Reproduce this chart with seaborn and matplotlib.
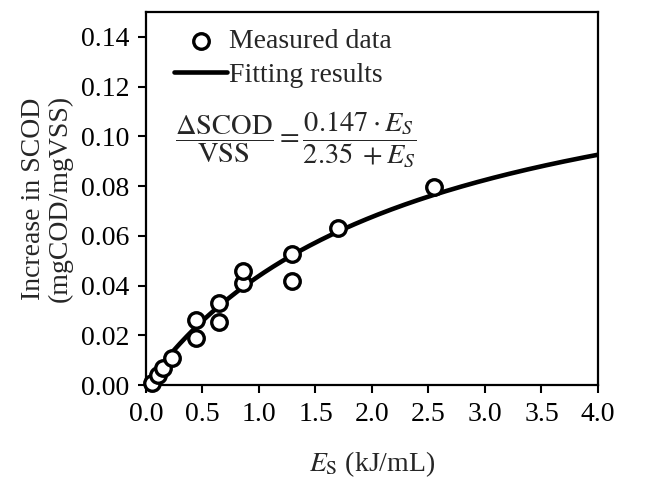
import numpy as np
import pandas as pd
import seaborn as sns
import matplotlib.pyplot as plt

# Measured points
es_measured = [0.05, 0.11, 0.15, 0.23, 0.44, 0.44, 0.65, 0.65, 0.86, 0.86, 1.29, 1.29, 1.70, 2.55]
scod_measured = [0.001, 0.004, 0.0067, 0.011, 0.019, 0.026, 0.0255, 0.033, 0.041, 0.046,
                 0.042, 0.0525, 0.063, 0.0796]

# Fitted model parameters (shown in the figure's equation)
fit_max = 0.147
fit_half = 2.35

x_ticks = [0.0, 0.5, 1.0, 1.5, 2.0, 2.5, 3.0, 3.5, 4.0]
y_ticks = [0.00, 0.02, 0.04, 0.06, 0.08, 0.10, 0.12, 0.14]

sns.set_style('ticks')
plt.rcParams['font.family'] = ['Liberation Serif', 'DejaVu Serif']
plt.rcParams['mathtext.fontset'] = 'stix'

measured = pd.DataFrame({'Es': es_measured, 'SCOD': scod_measured})
es_fit = np.linspace(0, 4.0, 200)
fitted = pd.DataFrame({'Es': es_fit, 'SCOD': fit_max * es_fit / (fit_half + es_fit)})

fig = plt.figure(figsize=(6.5, 4.79), dpi=100)
ax = fig.add_axes([0.2246, 0.1962, 0.6954, 0.7788])

sns.lineplot(data=fitted, x='Es', y='SCOD', color='black', linewidth=3.3,
             label='Fitting results', ax=ax, zorder=2)
sns.scatterplot(data=measured, x='Es', y='SCOD', marker='o', s=125,
                facecolor='white', edgecolor='black', linewidth=2.4,
                label='Measured data', ax=ax, zorder=3, clip_on=False)

ax.set_xlim(0, 4.0)
ax.set_ylim(0, 0.15)
ax.set_xticks(x_ticks)
ax.set_yticks(y_ticks)
ax.set_xticklabels([f'{v:.1f}' for v in x_ticks])
ax.set_yticklabels([f'{v:.2f}' for v in y_ticks])
ax.tick_params(direction='out', length=6, width=1.5, labelsize=20, colors='black', pad=6)
for sp in ax.spines.values():
    sp.set_linewidth(1.6)
    sp.set_color('black')

ax.set_xlabel(r'$\it{E}_{\mathrm{S}}$ (kJ/mL)', fontsize=20, labelpad=16)
ax.set_ylabel('Increase in SCOD\n(mgCOD/mgVSS)', fontsize=20, labelpad=6, linespacing=1.05)

handles, labels = ax.get_legend_handles_labels()
order = [labels.index('Measured data'), labels.index('Fitting results')]
ax.legend([handles[i] for i in order], [labels[i] for i in order],
          loc='upper left', bbox_to_anchor=(0.02, 1.008), frameon=False, fontsize=20,
          handlelength=1.9, handletextpad=0.05, labelspacing=0.3, borderaxespad=0.3)

ax.text(0.26, 0.0985,
        r'$\dfrac{\Delta\mathrm{SCOD}}{\mathrm{VSS}}=\dfrac{0.147\cdot E_S}{2.35\;+E_S}$',
        fontsize=20.5, ha='left', va='center')

fig.savefig('out.png', dpi=100)
